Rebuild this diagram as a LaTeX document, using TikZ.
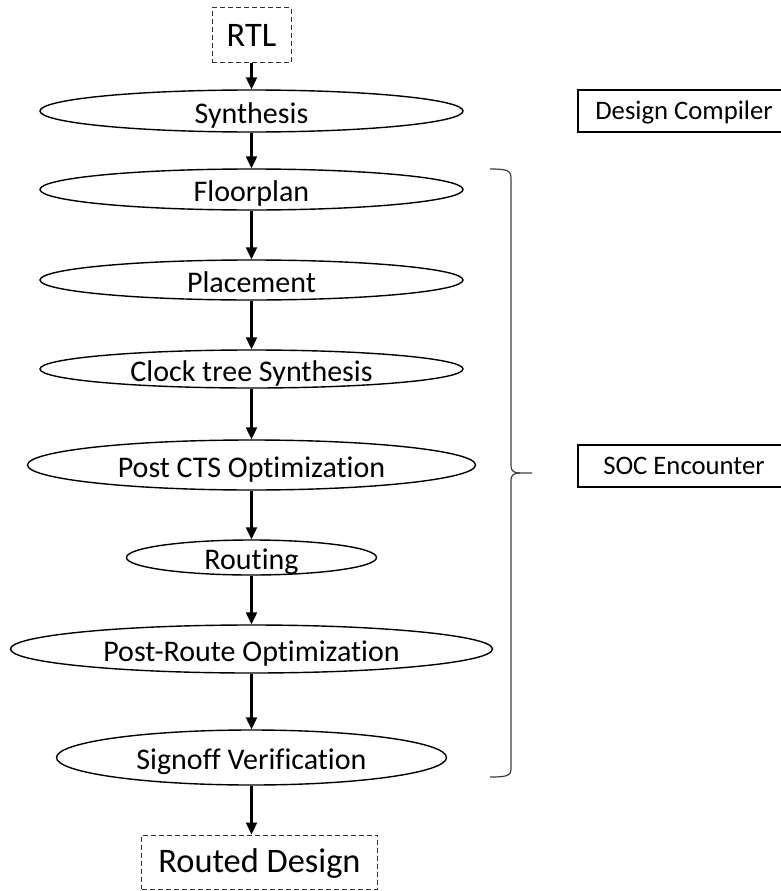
\documentclass[tikz,border=0pt]{standalone}
\usepackage{fontspec}
\setmainfont{Carlito}[Ligatures=NoCommon]
\usetikzlibrary{shapes.geometric,arrows.meta}

\tikzset{
  stage/.style={draw, ellipse, line width=1.4pt, inner sep=0pt,
    font=\fontsize{30}{30}\selectfont, text height=24pt, text depth=0pt},
  endpoint/.style={draw=black!80, dash pattern=on 5pt off 3pt, line width=1pt,
    rectangle, inner sep=0pt, font=\fontsize{34.4}{34.4}\selectfont,
    text height=21.5pt, text depth=0pt},
  toolbox/.style={draw, rectangle, line width=1.2pt, inner sep=0pt,
    font=\fontsize{26.7}{26.7}\selectfont, text height=17.5pt, text depth=0pt},
  flow/.style={line width=2.2pt, -{Triangle[length=12pt,width=11pt]}},
  bracket/.style={draw=black!75, line width=1.2pt}
}

\begin{document}
\begin{tikzpicture}[x=1pt, y=-1pt]
  \useasboundingbox (0,0) rectangle (781,891);

  % design start and end points
  \node[endpoint, minimum width=79pt, minimum height=55pt] (rtl) at (251.5,35.5) {RTL};
  \node[endpoint, minimum width=236pt, minimum height=54pt] (rd) at (259.5,862) {Routed Design};

  % flow stages
  \node[stage, minimum width=423pt, minimum height=42pt] (syn) at (251.5,111) {Synthesis};
  \node[stage, minimum width=423pt, minimum height=41pt] (flp) at (251.5,189.5) {Floorplan};
  \node[stage, minimum width=423pt, minimum height=40pt] (plc) at (251.5,280) {Placement};
  \node[stage, minimum width=423pt, minimum height=38pt] (cts) at (251.5,369) {Clock tree Synthesis};
  \node[stage, minimum width=448pt, minimum height=50pt] (pcts) at (251.5,465) {Post CTS Optimization};
  \node[stage, minimum width=250pt, minimum height=35pt] (rte) at (251.5,557.5) {Routing};
  \node[stage, minimum width=482pt, minimum height=48pt] (prt) at (251.5,649) {Post-Route Optimization};
  \node[stage, minimum width=390pt, minimum height=55pt] (sgn) at (251.5,757.5) {Signoff Verification};

  % tools
  \node[toolbox, minimum width=212pt, minimum height=42pt] (dc) at (684,111) {Design Compiler};
  \node[toolbox, minimum width=212pt, minimum height=42pt] (soc) at (684,466) {SOC Encounter};

  % connectors
  \draw[flow] (rtl.south) -- (syn.north);
  \draw[flow] (syn.south) -- (flp.north);
  \draw[flow] (flp.south) -- (plc.north);
  \draw[flow] (plc.south) -- (cts.north);
  \draw[flow] (cts.south) -- (pcts.north);
  \draw[flow] (pcts.south) -- (rte.north);
  \draw[flow] (rte.south) -- (prt.north);
  \draw[flow] (prt.south) -- (sgn.north);
  \draw[flow] (sgn.south) -- (sgn.south |- rd.north);

  % brace grouping the SOC Encounter stages
  \coordinate (btip) at (520,473);
  \draw[bracket] (490,169) .. controls (506,169) and (511,170) .. (511,178)
    -- (511,466) .. controls (511,471) and (514,473) .. (btip) -- (532,473);
  \draw[bracket] (btip) .. controls (514,473) and (511,475) .. (511,480)
    -- (511,769) .. controls (511,776) and (506,777) .. (490,777);
\end{tikzpicture}
\end{document}
